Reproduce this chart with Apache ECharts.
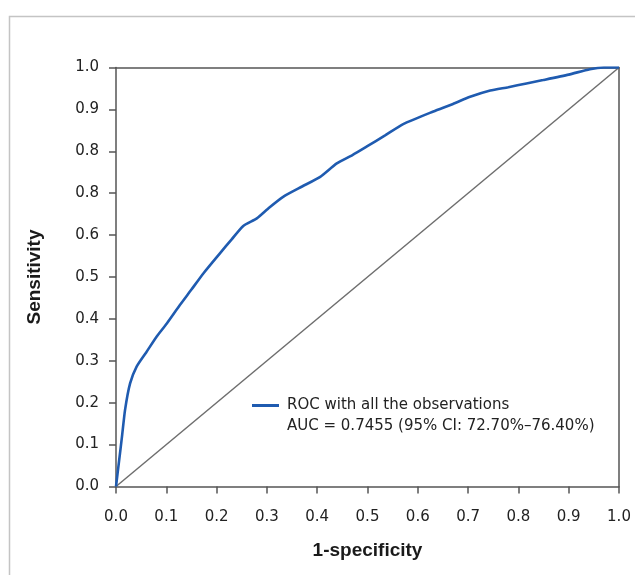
<!DOCTYPE html>
<html>
<head>
<meta charset="utf-8">
<script src="https://cdn.jsdelivr.net/npm/echarts@6/dist/echarts.min.js"></script>
<style>
html,body{margin:0;padding:0;background:#fff;}
#chart{width:635px;height:575px;}
</style>
</head>
<body>
<div id="chart"></div>
<script>
// ROC curve points: [1-specificity, sensitivity]
const rocX = [0, 0.006, 0.012, 0.018, 0.028, 0.041, 0.06, 0.081, 0.101, 0.127, 0.15, 0.174, 0.207, 0.23, 0.253, 0.28, 0.305, 0.333, 0.37, 0.406, 0.439, 0.47, 0.498, 0.535, 0.571, 0.631, 0.67, 0.704, 0.744, 0.78, 0.816, 0.849, 0.9, 0.942, 0.97, 1.0];
const rocY = [0, 0.06, 0.12, 0.183, 0.246, 0.286, 0.32, 0.358, 0.389, 0.433, 0.47, 0.509, 0.557, 0.59, 0.622, 0.64, 0.666, 0.692, 0.716, 0.739, 0.771, 0.791, 0.811, 0.838, 0.865, 0.895, 0.913, 0.93, 0.945, 0.953, 0.962, 0.970, 0.983, 0.996, 1.0, 1.0];
const diagX = [0, 1];
const diagY = [0, 1];
const xTickLabels = ['0.0','0.1','0.2','0.3','0.4','0.5','0.6','0.7','0.8','0.9','1.0'];
const yTickLabels = ['0.0','0.1','0.2','0.3','0.4','0.5','0.6','0.8','0.8','0.9','1.0'];
const seriesName = 'ROC with all the observations';
const aucText = 'AUC = 0.7455 (95% CI: 72.70%\u201376.40%)';

const font = 'DejaVu Sans';
const titleFont = 'Liberation Sans';
const chart = echarts.init(document.getElementById('chart'), null, {renderer: 'canvas'});
const idx = v => Math.round(v * 10);

chart.setOption({
  animation: false,
  backgroundColor: '#fff',
  textStyle: {fontFamily: font},
  graphic: [
    {type: 'rect', z: -1, shape: {x: 9.5, y: 16.5, width: 640, height: 570}, style: {fill: 'none', stroke: '#c4c4c4', lineWidth: 1.5}},
    {type: 'text', left: 287, top: 419, style: {text: aucText, fontFamily: font, fontSize: 15, fill: '#222'}}
  ],
  grid: {left: 116, top: 67.5, right: 16, bottom: 88.5, containLabel: false},
  legend: {
    left: 252, top: 398, padding: 0,
    itemWidth: 27, itemHeight: 3, itemGap: 8,
    icon: 'rect',
    data: [seriesName],
    textStyle: {fontFamily: font, fontSize: 15, color: '#222', padding: [0,0,0,3]}
  },
  xAxis: [{
    type: 'value', min: 0, max: 1, interval: 0.1,
    name: '1-specificity', nameLocation: 'middle', nameGap: 55,
    nameTextStyle: {fontFamily: titleFont, fontSize: 19, fontWeight: 'bold', color: '#1a1a1a'},
    axisLine: {show: true, onZero: false, lineStyle: {color: '#555', width: 1.5}},
    axisTick: {show: true, length: 7, inside: false, lineStyle: {color: '#555', width: 1.5}},
    axisLabel: {margin: 23, fontFamily: font, fontSize: 15, color: '#222', formatter: v => xTickLabels[idx(v)]},
    splitLine: {show: false}
  }, {
    type: 'value', min: 0, max: 1, position: 'top',
    axisLine: {show: true, onZero: false, lineStyle: {color: '#555', width: 1.5}},
    axisTick: {show: false}, axisLabel: {show: false}, splitLine: {show: false}
  }],
  yAxis: [{
    type: 'value', min: 0, max: 1, interval: 0.1,
    name: 'Sensitivity', nameLocation: 'middle', nameGap: 72, nameRotate: 90,
    nameTextStyle: {fontFamily: titleFont, fontSize: 19, fontWeight: 'bold', color: '#1a1a1a'},
    axisLine: {show: true, onZero: false, lineStyle: {color: '#555', width: 1.5}},
    axisTick: {show: true, length: 7, inside: false, lineStyle: {color: '#555', width: 1.5}},
    axisLabel: {margin: 17, fontFamily: font, fontSize: 15, color: '#222', formatter: v => yTickLabels[idx(v)]},
    splitLine: {show: false}
  }, {
    type: 'value', min: 0, max: 1, position: 'right',
    axisLine: {show: true, onZero: false, lineStyle: {color: '#555', width: 1.5}},
    axisTick: {show: false}, axisLabel: {show: false}, splitLine: {show: false}
  }],
  series: [{
    name: 'diagonal', type: 'line', showSymbol: false, symbol: 'none',
    data: diagX.map((x, i) => [x, diagY[i]]),
    lineStyle: {color: '#6e6e6e', width: 1.5}, z: 2, silent: true
  }, {
    name: seriesName, type: 'line', showSymbol: false, symbol: 'none', smooth: 0.2,
    data: rocX.map((x, i) => [x, rocY[i]]),
    itemStyle: {color: '#1f5bb0'},
    lineStyle: {color: '#1f5bb0', width: 2.6}, z: 3
  }]
});
</script>
</body>
</html>
